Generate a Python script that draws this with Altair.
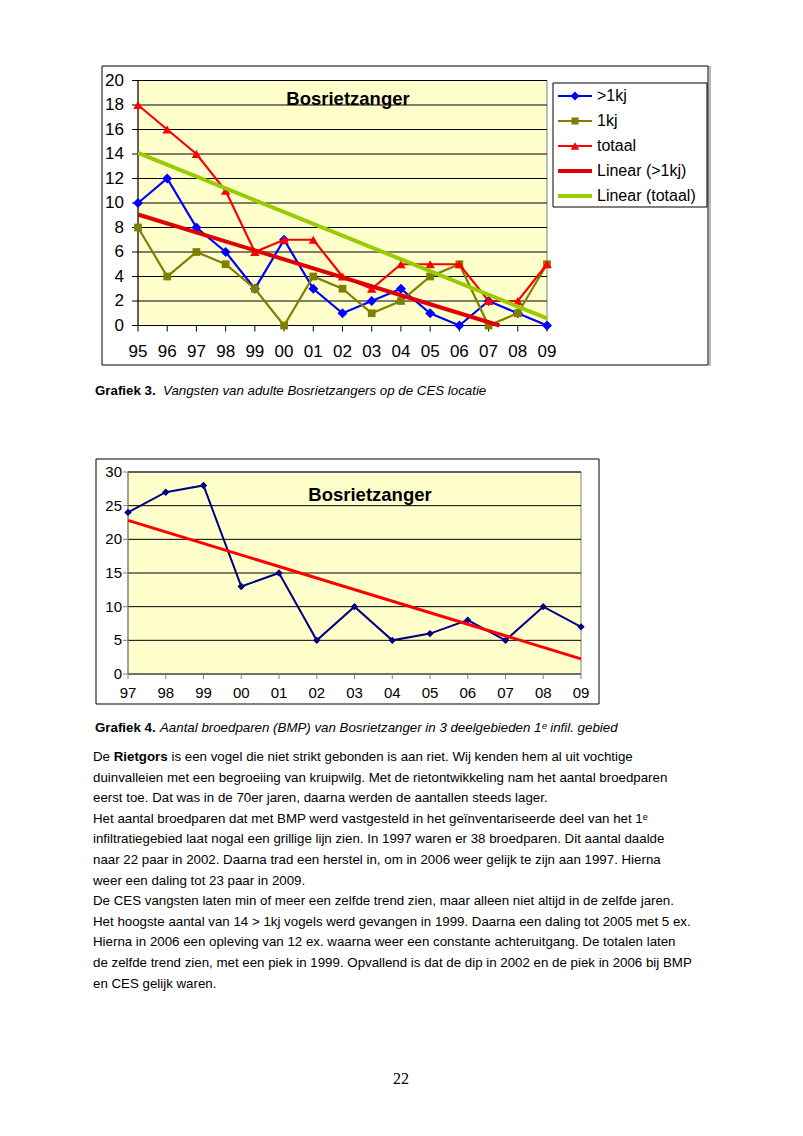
import altair as alt
import numpy as np
import pandas as pd

# ------------------------------------------------------------------ data
years1 = ['95', '96', '97', '98', '99', '00', '01', '02', '03', '04', '05', '06', '07', '08', '09']
adult = [10, 12, 8, 6, 3, 7, 3, 1, 2, 3, 1, 0, 2, 1, 0]        # >1kj
juv = [8, 4, 6, 5, 3, 0, 4, 3, 1, 2, 4, 5, 0, 1, 5]            # 1kj
total = [18, 16, 14, 11, 6, 7, 7, 4, 3, 5, 5, 5, 2, 2, 5]      # totaal
yticks1 = [0, 2, 4, 6, 8, 10, 12, 14, 16, 18, 20]
series1 = ['>1kj', '1kj', 'totaal', 'Linear (>1kj)', 'Linear (totaal)']

years2 = ['97', '98', '99', '00', '01', '02', '03', '04', '05', '06', '07', '08', '09']
pairs = [24, 27, 28, 13, 15, 5, 10, 5, 6, 8, 5, 10, 7]
yticks2 = [0, 5, 10, 15, 20, 25, 30]

chart_title = 'Bosrietzanger'
caption3_bold = 'Grafiek 3.'
caption3_ital = 'Vangsten van adulte Bosrietzangers op de CES locatie'
caption4_bold = 'Grafiek 4.'
caption4_ital = 'Aantal broedparen (BMP) van Bosrietzanger in 3 deelgebieden 1ᵉ infil. gebied'

body_first_a = 'De'
body_first_bold = 'Rietgors'
body_first_b = 'is een vogel die niet strikt gebonden is aan riet. Wij kenden hem al uit vochtige'
body_lines = [
    'duinvalleien met een begroeiing van kruipwilg. Met de rietontwikkeling nam het aantal broedparen',
    'eerst toe. Dat was in de 70er jaren, daarna werden de aantallen steeds lager.',
    'Het aantal broedparen dat met BMP werd vastgesteld in het geïnventariseerde deel van het 1ᵉ',
    'infiltratiegebied laat nogal een grillige lijn zien. In 1997 waren er 38 broedparen. Dit aantal daalde',
    'naar 22 paar in 2002. Daarna trad een herstel in, om in 2006 weer gelijk te zijn aan 1997. Hierna',
    'weer een daling tot 23 paar in 2009.',
    'De CES vangsten laten min of meer een zelfde trend zien, maar alleen niet altijd in de zelfde jaren.',
    'Het hoogste aantal van 14 > 1kj vogels werd gevangen in 1999. Daarna een daling tot 2005 met 5 ex.',
    'Hierna in 2006 een opleving van 12 ex. waarna weer een constante achteruitgang. De totalen laten',
    'de zelfde trend zien, met een piek in 1999. Opvallend is dat de dip in 2002 en de piek in 2006 bij BMP',
    'en CES gelijk waren.',
]
page_number = '22'

# ------------------------------------------------------------------ styles / helpers
FONT = 'Liberation Sans, Arial, sans-serif'
BODY = 'Liberation Sans, Arial, sans-serif'
BODY_SIZE = 13.3
SERIF = 'Liberation Serif, Times New Roman, serif'
one = pd.DataFrame({'k': [0]})


def box(x1, x2, y1, y2, fill, stroke, sw=1.0):
    return alt.Chart(one).mark_rect(fill=fill, stroke=stroke, strokeWidth=sw).encode(
        x=alt.value(x1), x2=alt.value(x2), y=alt.value(y1), y2=alt.value(y2))


def hrule(x1, x2, y, color, sw=1.0):
    return alt.Chart(one).mark_rule(color=color, strokeWidth=sw).encode(
        x=alt.value(x1), x2=alt.value(x2), y=alt.value(y))


def vrule(x, y1, y2, color, sw=1.0):
    return alt.Chart(one).mark_rule(color=color, strokeWidth=sw).encode(
        x=alt.value(x), y=alt.value(y1), y2=alt.value(y2))


def text_at(txt, x, y, size, font=BODY, weight='normal', style='normal', align='left', color='#000'):
    return alt.Chart(pd.DataFrame({'t': [txt]})).mark_text(
        font=font, fontSize=size, fontWeight=weight, fontStyle=style, align=align,
        baseline='middle', color=color).encode(text='t:N', x=alt.value(x), y=alt.value(y))


def trend(vals):
    idx = np.arange(len(vals))
    b, a = np.polyfit(idx, vals, 1)
    x1 = len(vals) - 1
    y1 = a + b * x1
    if y1 < 0:                       # Excel stops the trend line at the axis minimum
        x1 = -a / b
        y1 = 0.0
    return pd.DataFrame({'i': [0, x1], 'v': [a, y1]})


layers = []

# ================================================================== chart 1 (Grafiek 3)
L1, R1, T1, B1 = 130, 539, 72.5, 317.5
SX1 = alt.Scale(domain=[0, len(years1) - 1], range=[L1, R1], nice=False, zero=False)
SY1 = alt.Scale(domain=[0, 20], range=[B1, T1], nice=False, zero=False)

layers.append(box(94, 700, 58, 357, 'white', '#000000'))
layers.append(vrule(702, 58, 358, '#b8b8b8', 2))
layers.append(box(L1, R1, T1, B1, '#FFFFCC', '#808080'))

g1 = pd.DataFrame({'v': yticks1})
layers.append(alt.Chart(g1).mark_rule(color='#000000', strokeWidth=1).encode(
    y=alt.Y('v:Q', scale=SY1, axis=None), x=alt.value(L1), x2=alt.value(R1)))
layers.append(alt.Chart(g1).mark_rule(color='#000000', strokeWidth=1).encode(
    y=alt.Y('v:Q', scale=SY1, axis=None), x=alt.value(L1 - 6), x2=alt.value(L1)))
layers.append(alt.Chart(g1).mark_text(font=FONT, fontSize=17, align='right', baseline='middle', color='#000').encode(
    y=alt.Y('v:Q', scale=SY1, axis=None), x=alt.value(116), text='v:Q'))

x1df = pd.DataFrame({'i': list(range(len(years1))), 'yr': years1})
layers.append(alt.Chart(x1df).mark_rule(color='#000000', strokeWidth=1).encode(
    x=alt.X('i:Q', scale=SX1, axis=None), y=alt.value(B1), y2=alt.value(B1 + 6)))
layers.append(alt.Chart(x1df).mark_text(font=FONT, fontSize=17, align='center', baseline='middle', color='#000').encode(
    x=alt.X('i:Q', scale=SX1, axis=None), y=alt.value(344), text='yr:N'))

layers.append(vrule(L1, T1, B1, '#000000'))
layers.append(hrule(L1, R1, B1, '#000000'))

d1 = pd.DataFrame({'i': list(range(len(years1))), 'adult': adult, 'juv': juv, 'total': total})
series_style = [
    ('adult', '#0000FF', 'diamond', 100),
    ('juv', '#808000', 'square', 60),
    ('total', '#FF0000', 'triangle-up', 90),
]
for col, color, shape, size in series_style:
    base = alt.Chart(d1).encode(x=alt.X('i:Q', scale=SX1, axis=None),
                                y=alt.Y(f'{col}:Q', scale=SY1, axis=None))
    layers.append(base.mark_line(color=color, strokeWidth=2.2))
    layers.append(base.mark_point(shape=shape, filled=True, color=color, size=size, opacity=1))

for vals, color in [(adult, '#E00000'), (total, '#99CC00')]:
    layers.append(alt.Chart(trend(vals)).mark_line(color=color, strokeWidth=4).encode(
        x=alt.X('i:Q', scale=SX1, axis=None), y=alt.Y('v:Q', scale=SY1, axis=None)))

layers.append(text_at(chart_title, 340, 91, 18.5, font=FONT, weight='bold', align='center'))

# legend
layers.append(box(545, 699, 75, 199, 'white', '#000000'))
leg_style = [
    ('#0000FF', 2, 'diamond', 80),
    ('#808000', 2, 'square', 50),
    ('#FF0000', 2, 'triangle-up', 75),
    ('#E00000', 4, None, 0),
    ('#99CC00', 4, None, 0),
]
for k, (name, (color, sw, shape, size)) in enumerate(zip(series1, leg_style)):
    yy = 88 + k * 25
    layers.append(hrule(550, 584, yy, color, sw))
    if shape:
        layers.append(alt.Chart(one).mark_point(shape=shape, filled=True, color=color, size=size, opacity=1).encode(
            x=alt.value(567), y=alt.value(yy)))
    layers.append(text_at(name, 589, yy, 16, font=FONT))

# caption 3
layers.append(text_at(caption3_bold, 87, 383, BODY_SIZE, weight='bold'))
layers.append(text_at(caption3_ital, 155, 383, BODY_SIZE, style='italic'))

# ================================================================== chart 2 (Grafiek 4)
L2, R2, T2, B2 = 120, 573, 464, 666
SX2 = alt.Scale(domain=[0, len(years2) - 1], range=[L2, R2], nice=False, zero=False)
SY2 = alt.Scale(domain=[0, 30], range=[B2, T2], nice=False, zero=False)

layers.append(box(88, 591, 451, 696, 'white', '#000000'))
layers.append(box(L2, R2, T2, B2, '#FFFFCC', '#808080'))

g2 = pd.DataFrame({'v': yticks2})
layers.append(alt.Chart(g2).mark_rule(color='#000000', strokeWidth=1).encode(
    y=alt.Y('v:Q', scale=SY2, axis=None), x=alt.value(L2), x2=alt.value(R2)))
layers.append(alt.Chart(g2).mark_rule(color='#808080', strokeWidth=1).encode(
    y=alt.Y('v:Q', scale=SY2, axis=None), x=alt.value(L2 - 5), x2=alt.value(L2)))
layers.append(alt.Chart(g2).mark_text(font=FONT, fontSize=15, align='right', baseline='middle', color='#000').encode(
    y=alt.Y('v:Q', scale=SY2, axis=None), x=alt.value(114), text='v:Q'))

x2df = pd.DataFrame({'i': list(range(len(years2))), 'yr': years2})
layers.append(alt.Chart(x2df).mark_rule(color='#808080', strokeWidth=1).encode(
    x=alt.X('i:Q', scale=SX2, axis=None), y=alt.value(B2), y2=alt.value(B2 + 5)))
layers.append(alt.Chart(x2df).mark_text(font=FONT, fontSize=15, align='center', baseline='middle', color='#000').encode(
    x=alt.X('i:Q', scale=SX2, axis=None), y=alt.value(685), text='yr:N'))

layers.append(vrule(L2, T2, B2, '#808080'))
layers.append(hrule(L2, R2, B2, '#808080'))

d2 = pd.DataFrame({'i': list(range(len(years2))), 'v': pairs})
base2 = alt.Chart(d2).encode(x=alt.X('i:Q', scale=SX2, axis=None), y=alt.Y('v:Q', scale=SY2, axis=None))
layers.append(base2.mark_line(color='#000080', strokeWidth=2))
layers.append(base2.mark_point(shape='diamond', filled=True, color='#000080', size=55, opacity=1))
layers.append(alt.Chart(trend(pairs)).mark_line(color='#FF0000', strokeWidth=3).encode(
    x=alt.X('i:Q', scale=SX2, axis=None), y=alt.Y('v:Q', scale=SY2, axis=None)))

layers.append(text_at(chart_title, 362, 487, 18.5, font=FONT, weight='bold', align='center'))

# caption 4
layers.append(text_at(caption4_bold, 87, 720, BODY_SIZE, weight='bold'))
layers.append(text_at(caption4_ital, 152, 720, BODY_SIZE, style='italic'))

# ================================================================== body text
BX, BY, LS = 85, 749, 20.6
layers.append(text_at(body_first_a, BX, BY, BODY_SIZE))
layers.append(text_at(body_first_bold, BX + 20.7, BY, BODY_SIZE, weight='bold'))
layers.append(text_at(body_first_b, BX + 78.5, BY, BODY_SIZE))
body_df = pd.DataFrame({'t': body_lines, 'row': list(range(1, len(body_lines) + 1))})
body_df['py'] = BY + body_df['row'] * LS
layers.append(alt.Chart(body_df).mark_text(font=BODY, fontSize=BODY_SIZE, align='left', baseline='middle', color='#000').encode(
    text='t:N', x=alt.value(BX), y=alt.Y('py:Q', scale=None)))

layers.append(text_at(page_number, 393, 1071, 16, font=SERIF, align='center'))

chart = alt.layer(*layers).resolve_scale(x='independent', y='independent').properties(
    width=787, height=1120, autosize=alt.AutoSizeParams(type='none'), padding=0, background='white'
).configure_view(stroke=None)

chart.save('out.html', embed_options={'renderer': 'svg', 'actions': False})
